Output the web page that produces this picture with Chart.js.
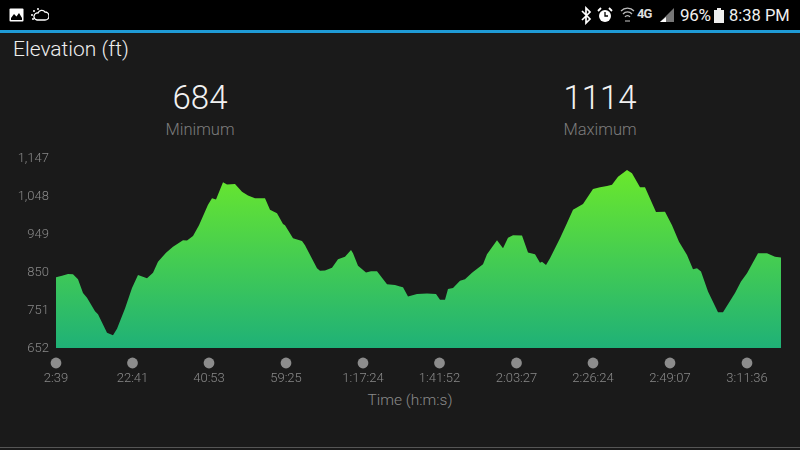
<!DOCTYPE html>
<html><head><meta charset="utf-8">
<script src="https://cdn.jsdelivr.net/npm/chart.js@4"></script>
<style>
html,body{margin:0;padding:0;width:800px;height:450px;overflow:hidden;background:#1a1a1a;font-family:Roboto,sans-serif}
#bar{position:absolute;left:0;top:0;width:800px;height:30px;background:#000}
#rule{position:absolute;left:0;top:30px;width:800px;height:3px;background:#1f9bd6}
#foot{position:absolute;left:0;top:447px;width:800px;height:1px;background:#555}
.t{position:absolute;white-space:nowrap}
.c{transform:translateX(-50%)}
canvas{position:absolute;left:0;top:0}
svg{position:absolute}
</style></head><body>
<div id="bar"></div><div id="rule"></div><div id="foot"></div>
<svg style="left:9px;top:8px" width="16" height="15" viewBox="0 0 16 15"><rect x="0.5" y="0.5" width="14" height="13" rx="1" fill="#fff"/><path d="M2 10l3-4 2.500 2.500L10 5l3 5v2H2z" fill="#000"/></svg>
<svg style="left:30px;top:8px" width="19" height="15" viewBox="0 0 19 15"><path d="M7 12h8a3.500 3.500 0 0 0 0-8 4 4 0 0 0-7 1 3.500 3.500 0 0 0-1 7z" fill="none" stroke="#fff" stroke-width="1.300"/><g fill="#fff"><circle cx="2" cy="7" r="1"/><circle cx="4" cy="3" r="1"/><circle cx="8" cy="1" r="1"/><circle cx="3" cy="11" r="1"/></g></svg>
<svg style="left:581px;top:6px" width="11" height="19" viewBox="0 0 11 19"><path d="M1 5l8 8-4 4V2l4 4-8 8" fill="none" stroke="#fff" stroke-width="1.700"/></svg>
<svg style="left:597px;top:7px" width="16" height="17" viewBox="0 0 16 17"><circle cx="8" cy="9" r="6" fill="#fff"/><path d="M8 5v4h3" fill="none" stroke="#000" stroke-width="1.300"/><path d="M1 4l3-3M15 4l-3-3" stroke="#fff" stroke-width="1.800"/></svg>
<svg style="left:620px;top:7px" width="15" height="16" viewBox="0 0 15 16"><path d="M1 4a9 9 0 0 1 13 0M3 7a6 6 0 0 1 9 0M5 10a3 3 0 0 1 5 0" fill="none" stroke="#bbb" stroke-width="1.300"/><path d="M5 14h5" stroke="#888" stroke-width="1.500"/></svg>
<svg style="left:659px;top:7px" width="16" height="16" viewBox="0 0 16 16"><path d="M15 1V15H1z" fill="#777"/><path d="M1 15h6v-5z" fill="#fff"/></svg>
<svg style="left:714px;top:8px" width="10" height="15" viewBox="0 0 10 15"><path d="M0 2h3V0h4v2h3v13H0z" fill="#eee"/></svg>
<div class="t" style="left:637px;top:6px;font:bold 13px Roboto;color:#ddd;letter-spacing:-1px">4G</div>
<div class="t" style="left:680px;top:5px;font:17px Roboto;color:#f0f0f0;letter-spacing:-.3px">96%</div>
<div class="t" style="left:729px;top:6px;font:16.500px Roboto;color:#f0f0f0">8:38 PM</div>
<div class="t" style="left:13px;top:37px;font:300 21px Roboto;color:#eee">Elevation (ft)</div>
<div class="t c" style="left:200px;top:78px;font:300 33px Roboto;color:#f2f2f2">684</div>
<div class="t c" style="left:200px;top:120px;font:300 16.500px Roboto;color:#7c7c7c">Minimum</div>
<div class="t c" style="left:600px;top:78px;font:300 33px Roboto;color:#f2f2f2">1114</div>
<div class="t c" style="left:600px;top:120px;font:300 16.500px Roboto;color:#7c7c7c">Maximum</div>
<div class="t c" style="left:410px;top:391px;font:300 15.500px Roboto;color:#8a8a8a">Time (h:m:s)</div>
<canvas id="c" width="800" height="450"></canvas>
<script>
const samples=[0,6,12,17,22,27,31,39,42,51,57,61,69,76,82,91,97,102,110,117,127,131,137,143,152,156,160,167,171,179,186,192,199,209,214,221,227,229,237,246,249,261,264,269,276,282,289,295,297,302,310,315,321,331,339,344,347,352,361,371,380,384,389,392,397,404,409,416,427,431,441,447,452,457,466,472,479,484,486,490,494,504,510,517,527,537,544,551,556,562,571,576,584,589,600,609,616,623,631,637,641,645,652,662,667,679,685,691,702,711,719,725];
const elevation=[836,840,845,844,831,795,783,748,740,692,685,702,755,808,842,834,848,877,900,916,933,932,944,972,1025,1042,1039,1084,1078,1079,1059,1049,1042,1042,1012,1003,975,972,938,931,920,860,853,854,861,883,890,907,899,866,849,852,852,818,816,812,810,786,793,794,793,778,778,806,808,827,831,848,870,896,933,912,939,946,945,901,896,874,877,868,886,938,972,1012,1027,1066,1071,1074,1077,1098,1116,1107,1071,1071,1006,1007,972,929,894,857,860,851,799,745,745,795,825,847,899,899,890,888];
const tickSamples=[0,76.5,153,230,307,383.5,460.5,537,614,691];
const tickLabels=["2:39","22:41","40:53","59:25","1:17:24","1:41:52","2:03:27","2:26:24","2:49:07","3:11:36"];
const yTicks=[652,751,850,949,1048,1147];
const tickFont={family:'Roboto',size:13,weight:'300'};
const dotPlugin={id:'tickDots',afterDraw(ch){
  const s=ch.scales.x,c=ch.ctx;c.save();c.fillStyle='#8c8c8c';
  s.ticks.forEach(t=>{c.beginPath();c.arc(s.getPixelForValue(t.value),ch.chartArea.bottom+15,5.4,0,Math.PI*2);c.fill();});
  c.restore();}};
new Chart(document.getElementById('c'),{
  type:'line',
  data:{datasets:[{
    data:samples.map((x,i)=>({x,y:elevation[i]})),
    fill:'start',borderWidth:0,pointRadius:0,tension:0,
    backgroundColor(ctx){
      const a=ctx.chart.chartArea;if(!a)return '#4c4';
      const g=ctx.chart.ctx.createLinearGradient(0,a.top+12,0,a.bottom);
      g.addColorStop(0,'#6ae82c');g.addColorStop(1,'#1fb177');return g;}
  }]},
  plugins:[dotPlugin],
  options:{
    responsive:false,animation:false,devicePixelRatio:1,
    layout:{padding:{top:158,right:19,left:0,bottom:42}},
    plugins:{legend:{display:false},tooltip:{enabled:false}},
    scales:{
      x:{type:'linear',min:0,max:725,
        grid:{display:false,drawTicks:false},border:{display:false},
        afterFit(s){s.height=60;},
        afterBuildTicks(s){s.ticks=tickSamples.map(value=>({value}));},
        ticks:{autoSkip:false,maxRotation:0,color:'#8a8a8a',font:tickFont,padding:23,
          callback(v){return tickLabels[tickSamples.indexOf(v)];}}},
      y:{type:'linear',min:652,max:1147,
        grid:{display:false,drawTicks:false},border:{display:false},
        afterFit(s){s.width=56;},
        afterBuildTicks(s){s.ticks=yTicks.map(value=>({value}));},
        ticks:{color:'#8a8a8a',font:tickFont,padding:7,labelOffset:1,
          callback(v){return v.toLocaleString('en-US');}}}
    }
  }
});
</script>
</body></html>
